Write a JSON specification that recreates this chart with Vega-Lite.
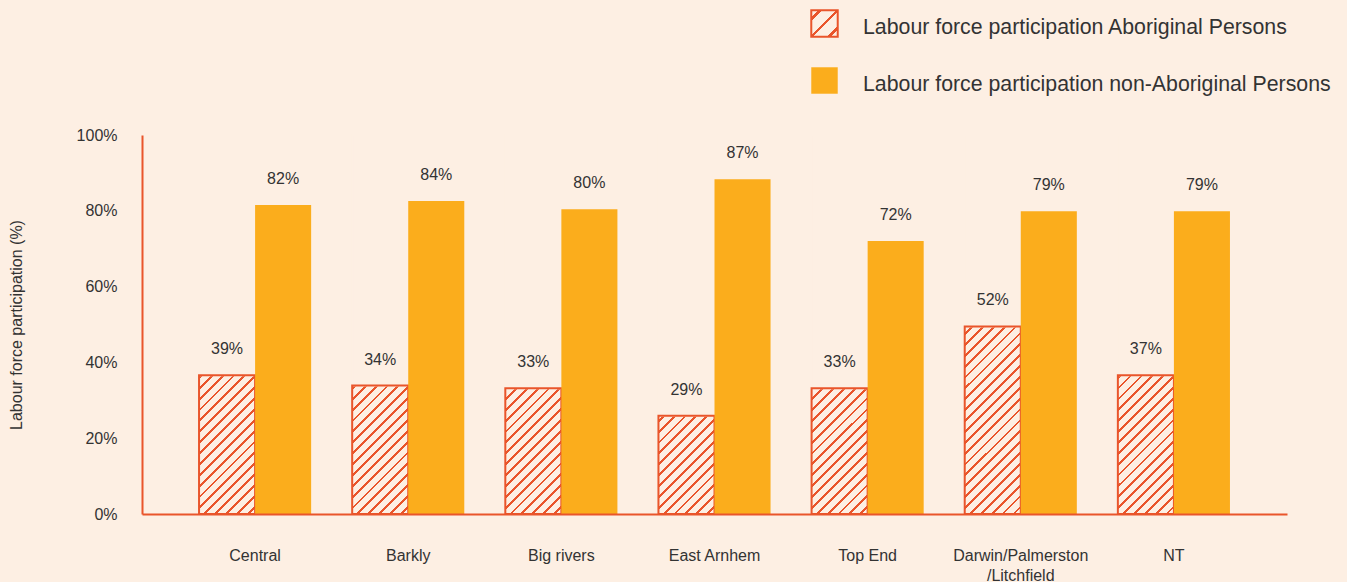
{
  "$schema": "https://vega.github.io/schema/vega-lite/v6.json",
  "width": 1145,
  "height": 379,
  "autosize": "none",
  "padding": {"left": 142, "top": 135, "right": 60, "bottom": 68},
  "background": "#fdefe3",
  "config": {"font": "Liberation Sans", "view": {"stroke": null}},
  "data": {
    "values": [
      {"region": "Central", "group": "Labour force participation Aboriginal Persons", "value": 36.6, "label": "39%"},
      {"region": "Central", "group": "Labour force participation non-Aboriginal Persons", "value": 81.5, "label": "82%"},
      {"region": "Barkly", "group": "Labour force participation Aboriginal Persons", "value": 33.9, "label": "34%"},
      {"region": "Barkly", "group": "Labour force participation non-Aboriginal Persons", "value": 82.6, "label": "84%"},
      {"region": "Big rivers", "group": "Labour force participation Aboriginal Persons", "value": 33.2, "label": "33%"},
      {"region": "Big rivers", "group": "Labour force participation non-Aboriginal Persons", "value": 80.4, "label": "80%"},
      {"region": "East Arnhem", "group": "Labour force participation Aboriginal Persons", "value": 25.9, "label": "29%"},
      {"region": "East Arnhem", "group": "Labour force participation non-Aboriginal Persons", "value": 88.3, "label": "87%"},
      {"region": "Top End", "group": "Labour force participation Aboriginal Persons", "value": 33.2, "label": "33%"},
      {"region": "Top End", "group": "Labour force participation non-Aboriginal Persons", "value": 72.0, "label": "72%"},
      {"region": "Darwin/Palmerston/Litchfield", "group": "Labour force participation Aboriginal Persons", "value": 49.5, "label": "52%"},
      {"region": "Darwin/Palmerston/Litchfield", "group": "Labour force participation non-Aboriginal Persons", "value": 79.9, "label": "79%"},
      {"region": "NT", "group": "Labour force participation Aboriginal Persons", "value": 36.6, "label": "37%"},
      {"region": "NT", "group": "Labour force participation non-Aboriginal Persons", "value": 79.9, "label": "79%"}
    ]
  },
  "encoding": {
    "x": {
      "field": "region",
      "type": "nominal",
      "sort": null,
      "scale": {"paddingInner": 0.268, "paddingOuter": 0.3725},
      "axis": {
        "title": null,
        "labelAngle": 0,
        "labelFontSize": 16,
        "labelColor": "#333333",
        "labelPadding": 33,
        "ticks": false,
        "tickSize": 0,
        "domainColor": "#e9552b",
        "domainWidth": 2,
        "labelLineHeight": 20,
        "labelExpr": "datum.value == 'Darwin/Palmerston/Litchfield' ? ['Darwin/Palmerston', '/Litchfield'] : datum.value",
        "zindex": 1
      }
    },
    "xOffset": {
      "field": "group",
      "type": "nominal",
      "sort": null,
      "scale": {"paddingInner": 0, "paddingOuter": 0}
    }
  },
  "layer": [
    {
      "transform": [{"filter": "datum.group == 'Labour force participation Aboriginal Persons'"}],
      "mark": {
        "type": "bar",
        "strokeWidth": 0,
        "fill": {"gradient": "linear", "x1": 0, "y1": 0, "x2": 0.166, "y2": 1.1231, "stops": [
          {"offset": 0, "color": "#fdefe3"},
          {"offset": 0.005, "color": "#fdefe3"}, {"offset": 0.005, "color": "#e9552b"}, {"offset": 0.0115, "color": "#e9552b"}, {"offset": 0.0115, "color": "#fdefe3"},
          {"offset": 0.03, "color": "#fdefe3"}, {"offset": 0.03, "color": "#e9552b"}, {"offset": 0.0365, "color": "#e9552b"}, {"offset": 0.0365, "color": "#fdefe3"},
          {"offset": 0.055, "color": "#fdefe3"}, {"offset": 0.055, "color": "#e9552b"}, {"offset": 0.0615, "color": "#e9552b"}, {"offset": 0.0615, "color": "#fdefe3"},
          {"offset": 0.08, "color": "#fdefe3"}, {"offset": 0.08, "color": "#e9552b"}, {"offset": 0.0865, "color": "#e9552b"}, {"offset": 0.0865, "color": "#fdefe3"},
          {"offset": 0.105, "color": "#fdefe3"}, {"offset": 0.105, "color": "#e9552b"}, {"offset": 0.1115, "color": "#e9552b"}, {"offset": 0.1115, "color": "#fdefe3"},
          {"offset": 0.13, "color": "#fdefe3"}, {"offset": 0.13, "color": "#e9552b"}, {"offset": 0.1365, "color": "#e9552b"}, {"offset": 0.1365, "color": "#fdefe3"},
          {"offset": 0.155, "color": "#fdefe3"}, {"offset": 0.155, "color": "#e9552b"}, {"offset": 0.1615, "color": "#e9552b"}, {"offset": 0.1615, "color": "#fdefe3"},
          {"offset": 0.18, "color": "#fdefe3"}, {"offset": 0.18, "color": "#e9552b"}, {"offset": 0.1865, "color": "#e9552b"}, {"offset": 0.1865, "color": "#fdefe3"},
          {"offset": 0.205, "color": "#fdefe3"}, {"offset": 0.205, "color": "#e9552b"}, {"offset": 0.2115, "color": "#e9552b"}, {"offset": 0.2115, "color": "#fdefe3"},
          {"offset": 0.23, "color": "#fdefe3"}, {"offset": 0.23, "color": "#e9552b"}, {"offset": 0.2365, "color": "#e9552b"}, {"offset": 0.2365, "color": "#fdefe3"},
          {"offset": 0.255, "color": "#fdefe3"}, {"offset": 0.255, "color": "#e9552b"}, {"offset": 0.2615, "color": "#e9552b"}, {"offset": 0.2615, "color": "#fdefe3"},
          {"offset": 0.28, "color": "#fdefe3"}, {"offset": 0.28, "color": "#e9552b"}, {"offset": 0.2865, "color": "#e9552b"}, {"offset": 0.2865, "color": "#fdefe3"},
          {"offset": 0.305, "color": "#fdefe3"}, {"offset": 0.305, "color": "#e9552b"}, {"offset": 0.3115, "color": "#e9552b"}, {"offset": 0.3115, "color": "#fdefe3"},
          {"offset": 0.33, "color": "#fdefe3"}, {"offset": 0.33, "color": "#e9552b"}, {"offset": 0.3365, "color": "#e9552b"}, {"offset": 0.3365, "color": "#fdefe3"},
          {"offset": 0.355, "color": "#fdefe3"}, {"offset": 0.355, "color": "#e9552b"}, {"offset": 0.3615, "color": "#e9552b"}, {"offset": 0.3615, "color": "#fdefe3"},
          {"offset": 0.38, "color": "#fdefe3"}, {"offset": 0.38, "color": "#e9552b"}, {"offset": 0.3865, "color": "#e9552b"}, {"offset": 0.3865, "color": "#fdefe3"},
          {"offset": 0.405, "color": "#fdefe3"}, {"offset": 0.405, "color": "#e9552b"}, {"offset": 0.4115, "color": "#e9552b"}, {"offset": 0.4115, "color": "#fdefe3"},
          {"offset": 0.43, "color": "#fdefe3"}, {"offset": 0.43, "color": "#e9552b"}, {"offset": 0.4365, "color": "#e9552b"}, {"offset": 0.4365, "color": "#fdefe3"},
          {"offset": 0.455, "color": "#fdefe3"}, {"offset": 0.455, "color": "#e9552b"}, {"offset": 0.4615, "color": "#e9552b"}, {"offset": 0.4615, "color": "#fdefe3"},
          {"offset": 0.48, "color": "#fdefe3"}, {"offset": 0.48, "color": "#e9552b"}, {"offset": 0.4865, "color": "#e9552b"}, {"offset": 0.4865, "color": "#fdefe3"},
          {"offset": 0.505, "color": "#fdefe3"}, {"offset": 0.505, "color": "#e9552b"}, {"offset": 0.5115, "color": "#e9552b"}, {"offset": 0.5115, "color": "#fdefe3"},
          {"offset": 0.53, "color": "#fdefe3"}, {"offset": 0.53, "color": "#e9552b"}, {"offset": 0.5365, "color": "#e9552b"}, {"offset": 0.5365, "color": "#fdefe3"},
          {"offset": 0.555, "color": "#fdefe3"}, {"offset": 0.555, "color": "#e9552b"}, {"offset": 0.5615, "color": "#e9552b"}, {"offset": 0.5615, "color": "#fdefe3"},
          {"offset": 0.58, "color": "#fdefe3"}, {"offset": 0.58, "color": "#e9552b"}, {"offset": 0.5865, "color": "#e9552b"}, {"offset": 0.5865, "color": "#fdefe3"},
          {"offset": 0.605, "color": "#fdefe3"}, {"offset": 0.605, "color": "#e9552b"}, {"offset": 0.6115, "color": "#e9552b"}, {"offset": 0.6115, "color": "#fdefe3"},
          {"offset": 0.63, "color": "#fdefe3"}, {"offset": 0.63, "color": "#e9552b"}, {"offset": 0.6365, "color": "#e9552b"}, {"offset": 0.6365, "color": "#fdefe3"},
          {"offset": 0.655, "color": "#fdefe3"}, {"offset": 0.655, "color": "#e9552b"}, {"offset": 0.6615, "color": "#e9552b"}, {"offset": 0.6615, "color": "#fdefe3"},
          {"offset": 0.68, "color": "#fdefe3"}, {"offset": 0.68, "color": "#e9552b"}, {"offset": 0.6865, "color": "#e9552b"}, {"offset": 0.6865, "color": "#fdefe3"},
          {"offset": 0.705, "color": "#fdefe3"}, {"offset": 0.705, "color": "#e9552b"}, {"offset": 0.7115, "color": "#e9552b"}, {"offset": 0.7115, "color": "#fdefe3"},
          {"offset": 0.73, "color": "#fdefe3"}, {"offset": 0.73, "color": "#e9552b"}, {"offset": 0.7365, "color": "#e9552b"}, {"offset": 0.7365, "color": "#fdefe3"},
          {"offset": 0.755, "color": "#fdefe3"}, {"offset": 0.755, "color": "#e9552b"}, {"offset": 0.7615, "color": "#e9552b"}, {"offset": 0.7615, "color": "#fdefe3"},
          {"offset": 0.78, "color": "#fdefe3"}, {"offset": 0.78, "color": "#e9552b"}, {"offset": 0.7865, "color": "#e9552b"}, {"offset": 0.7865, "color": "#fdefe3"},
          {"offset": 0.805, "color": "#fdefe3"}, {"offset": 0.805, "color": "#e9552b"}, {"offset": 0.8115, "color": "#e9552b"}, {"offset": 0.8115, "color": "#fdefe3"},
          {"offset": 0.83, "color": "#fdefe3"}, {"offset": 0.83, "color": "#e9552b"}, {"offset": 0.8365, "color": "#e9552b"}, {"offset": 0.8365, "color": "#fdefe3"},
          {"offset": 0.855, "color": "#fdefe3"}, {"offset": 0.855, "color": "#e9552b"}, {"offset": 0.8615, "color": "#e9552b"}, {"offset": 0.8615, "color": "#fdefe3"},
          {"offset": 0.88, "color": "#fdefe3"}, {"offset": 0.88, "color": "#e9552b"}, {"offset": 0.8865, "color": "#e9552b"}, {"offset": 0.8865, "color": "#fdefe3"},
          {"offset": 0.905, "color": "#fdefe3"}, {"offset": 0.905, "color": "#e9552b"}, {"offset": 0.9115, "color": "#e9552b"}, {"offset": 0.9115, "color": "#fdefe3"},
          {"offset": 0.93, "color": "#fdefe3"}, {"offset": 0.93, "color": "#e9552b"}, {"offset": 0.9365, "color": "#e9552b"}, {"offset": 0.9365, "color": "#fdefe3"},
          {"offset": 0.955, "color": "#fdefe3"}, {"offset": 0.955, "color": "#e9552b"}, {"offset": 0.9615, "color": "#e9552b"}, {"offset": 0.9615, "color": "#fdefe3"},
          {"offset": 0.98, "color": "#fdefe3"}, {"offset": 0.98, "color": "#e9552b"}, {"offset": 0.9865, "color": "#e9552b"}, {"offset": 0.9865, "color": "#fdefe3"},
          {"offset": 1, "color": "#fdefe3"}
        ]}
      },
      "encoding": {
        "y": {"datum": 0, "type": "quantitative", "title": "Labour force participation (%)"},
        "y2": {"datum": 100}
      }
    },
    {
      "transform": [{"filter": "datum.group == 'Labour force participation Aboriginal Persons'"}],
      "mark": {"type": "bar", "fill": "#fdefe3", "stroke": "#fdefe3", "strokeWidth": 2},
      "encoding": {
        "y": {"field": "value", "type": "quantitative", "title": "Labour force participation (%)"},
        "y2": {"datum": 100}
      }
    },
    {
      "mark": {"type": "bar", "strokeWidth": 2},
      "encoding": {
        "y": {
          "field": "value",
          "type": "quantitative",
          "title": "Labour force participation (%)",
          "scale": {"domain": [0, 100], "nice": false},
          "axis": {
            "title": "Labour force participation (%)",
            "titleFontSize": 16,
            "titleFontWeight": "normal",
            "titleColor": "#333333",
            "titlePadding": 52,
            "values": [0, 20, 40, 60, 80, 100],
            "labelExpr": "datum.value + '%'",
            "labelFontSize": 16,
            "labelColor": "#333333",
            "labelPadding": 25,
            "ticks": false,
            "tickSize": 0,
            "grid": false,
            "domainColor": "#e9552b",
            "domainWidth": 2,
            "zindex": 1
          }
        },
        "fill": {
          "field": "group",
          "type": "nominal",
          "scale": {
            "domain": ["Labour force participation Aboriginal Persons", "Labour force participation non-Aboriginal Persons"],
            "range": [
              {"expr": "{gradient: 'linear', x1: 0, y1: 0, x2: 1, y2: 1, stops: [{offset: 0, color: '#fdefe3'}, {offset: 0.135, color: '#fdefe3'}, {offset: 0.135, color: '#e9552b'}, {offset: 0.205, color: '#e9552b'}, {offset: 0.205, color: '#fdefe3'}, {offset: 0.465, color: '#fdefe3'}, {offset: 0.465, color: '#e9552b'}, {offset: 0.535, color: '#e9552b'}, {offset: 0.535, color: '#fdefe3'}, {offset: 0.795, color: '#fdefe3'}, {offset: 0.795, color: '#e9552b'}, {offset: 0.865, color: '#e9552b'}, {offset: 0.865, color: '#fdefe3'}, {offset: 1, color: '#fdefe3'}]}"},
              "#fbad1c"
            ]
          },
          "legend": {
            "title": null,
            "orient": "none",
            "legendX": 668,
            "legendY": -126,
            "direction": "vertical",
            "symbolType": "square",
            "symbolSize": 700,
            "symbolStrokeWidth": 2,
            "symbolOpacity": 1,
            "labelFontSize": 21.3,
            "labelColor": "#333333",
            "labelOffset": 24,
            "rowPadding": 22,
            "labelLimit": 700,
            "padding": 0,
            "encode": {"labels": {"update": {"dy": {"value": 4}}}}
          }
        },
        "stroke": {
          "field": "group",
          "type": "nominal",
          "scale": {
            "domain": ["Labour force participation Aboriginal Persons", "Labour force participation non-Aboriginal Persons"],
            "range": ["#e9552b", "transparent"]
          },
          "legend": {
            "title": null,
            "orient": "none",
            "legendX": 668,
            "legendY": -126,
            "direction": "vertical",
            "symbolType": "square",
            "symbolSize": 700,
            "symbolStrokeWidth": 2,
            "symbolOpacity": 1,
            "labelFontSize": 21.3,
            "labelColor": "#333333",
            "labelOffset": 24,
            "rowPadding": 22,
            "labelLimit": 700,
            "padding": 0,
            "encode": {"labels": {"update": {"dy": {"value": 4}}}}
          }
        },
        "fillOpacity": {
          "field": "group",
          "type": "nominal",
          "scale": {
            "domain": ["Labour force participation Aboriginal Persons", "Labour force participation non-Aboriginal Persons"],
            "range": [0, 1]
          },
          "legend": null
        }
      }
    },
    {
      "mark": {"type": "text", "dy": -26, "fontSize": 16, "fill": "#333333", "baseline": "middle"},
      "encoding": {
        "y": {"field": "value", "type": "quantitative", "title": "Labour force participation (%)"},
        "text": {"field": "label"}
      }
    }
  ]
}
